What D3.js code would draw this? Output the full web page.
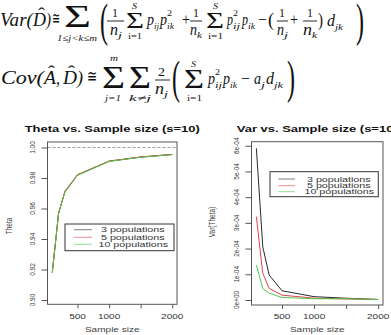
<!DOCTYPE html>
<html><head><meta charset="utf-8">
<script src="https://cdn.jsdelivr.net/npm/d3@7"></script>
<style>
html,body{margin:0;padding:0;background:#fff;}
svg{display:block;}
</style></head>
<body>
<svg id="c" width="391" height="335"></svg>
<script>
// ---------------- data ----------------
const sampleSize = [100, 200, 300, 500, 1000, 1500, 2000];
const theta3  = [0.9180, 0.9570, 0.9710, 0.9820, 0.9910, 0.9937, 0.9954];
const theta5  = [0.9183, 0.9567, 0.9713, 0.9822, 0.9911, 0.9938, 0.9955];
const theta10 = [0.9177, 0.9573, 0.9707, 0.9818, 0.9909, 0.9936, 0.9953];
const var3  = [5.90e-4, 2.07e-4, 0.97e-4, 0.36e-4, 0.13e-4, 0.07e-4, 0.02e-4];
const var5  = [3.24e-4, 1.04e-4, 0.45e-4, 0.19e-4, 0.07e-4, 0.04e-4, 0.02e-4];
const var10 = [1.36e-4, 0.45e-4, 0.26e-4, 0.10e-4, 0.05e-4, 0.05e-4, 0.02e-4];
const seriesNames = ["3 populations", "5 populations", "10 populations"];
const seriesColors = ["#2a2a2a", "#e5404c", "#4fc94a"];
const xTicks = [500, 1000, 1500, 2000];
const xTickLabels = ["500", "1000", "", "2000"];
const thetaTicks = [0.90, 0.92, 0.94, 0.96, 0.98, 1.00];
const thetaTickLabels = ["0.90", "0.92", "0.94", "0.96", "0.98", "1.00"];
const varTicks = [0, 1e-4, 2e-4, 3e-4, 4e-4, 5e-4, 6e-4];
const varTickLabels = ["0e+00", "1e-04", "2e-04", "3e-04", "4e-04", "5e-04", "6e-04"];
const thetaRef = 1.0;
const titles = ["Theta vs. Sample size (s=10)", "Var vs. Sample size (s=10)"];
const xTitle = "Sample size";
const yTitles = ["Theta", "Var(Theta)"];

const svg = d3.select("#c");
const SANS = "'Liberation Sans', Arial, Helvetica, sans-serif";
const SERIF = "'Liberation Serif', 'Times New Roman', 'DejaVu Serif', serif";

// horizontally stretched text helper (source image is stretched)
function htext(g, str, x, y, o) {
  o = o || {};
  const t = g.append("text")
    .attr("transform", `translate(${x},${y}) scale(${o.sx||1.5},1)` + (o.rot ? " rotate(-90)" : ""))
    .attr("text-anchor", o.anchor || "middle")
    .attr("font-family", o.fam || SANS)
    .attr("font-size", o.fs || 6.7)
    .attr("font-weight", o.bold ? "bold" : "normal")
    .attr("fill", o.fill || "#222")
    .text(str);
  return t;
}

// ---------------- formula ----------------
const fg = svg.append("g").attr("fill", "#111");
function fit(p) {
  const t = fg.append("text")
    .attr("font-family", SERIF)
    .attr("font-size", p.fs)
    .attr("font-style", p.it ? "italic" : "normal")
    .text(p.t);
  const w = t.node().getComputedTextLength() || 1;
  const sx = (p.x1 - p.x0) / w;
  t.attr("transform", `translate(${p.x0},${p.y}) scale(${sx},1)`);
}
function bar(x0, x1, y) {
  fg.append("line").attr("x1", x0).attr("x2", x1).attr("y1", y).attr("y2", y)
    .attr("stroke", "#111").attr("stroke-width", 0.9);
}
const L1 = [
  {t:"Var(", x0:0, x1:33, y:26, fs:18, it:1},
  {t:"D", x0:33, x1:46, y:26, fs:18, it:1},
  {t:"ˆ", x0:38, x1:45, y:19, fs:16},
  {t:")", x0:46, x1:51, y:26, fs:18, it:1},
  {t:"≅", x0:52, x1:60, y:24, fs:17},
  {t:"Σ", x0:64, x1:91, y:27, fs:32},
  {t:"1≤j<k≤m", x0:57, x1:97, y:41, fs:9, it:1},
  {t:"(", x0:100, x1:108, y:36, fs:46},
  {t:"1", x0:112, x1:118, y:17, fs:12},
  {t:"n", x0:110, x1:118, y:35, fs:16, it:1},
  {t:"j", x0:118, x1:122, y:38, fs:9, it:1},
  {t:"Σ", x0:126, x1:144, y:28, fs:24},
  {t:"S", x0:132, x1:137, y:9, fs:8, it:1},
  {t:"i=1", x0:128, x1:142, y:39, fs:8},
  {t:"p", x0:147, x1:154, y:25, fs:16, it:1},
  {t:"ij", x0:154, x1:159, y:29, fs:8, it:1},
  {t:"p", x0:160, x1:167, y:25, fs:16, it:1},
  {t:"ik", x0:167, x1:174, y:29, fs:8, it:1},
  {t:"2", x0:167, x1:172, y:16, fs:8},
  {t:"+", x0:182, x1:190, y:25, fs:16},
  {t:"1", x0:193, x1:199, y:17, fs:12},
  {t:"n", x0:190, x1:197, y:35, fs:16, it:1},
  {t:"k", x0:197, x1:202, y:38, fs:9, it:1},
  {t:"Σ", x0:206, x1:224, y:28, fs:24},
  {t:"S", x0:213, x1:218, y:9, fs:8, it:1},
  {t:"i=1", x0:208, x1:223, y:39, fs:8},
  {t:"p", x0:227, x1:233, y:25, fs:16, it:1},
  {t:"2", x0:233, x1:238, y:16, fs:8},
  {t:"ij", x0:233, x1:240, y:29, fs:8, it:1},
  {t:"p", x0:242, x1:248, y:25, fs:16, it:1},
  {t:"ik", x0:248, x1:255, y:29, fs:8, it:1},
  {t:"−", x0:258, x1:267, y:25, fs:16},
  {t:"(", x0:268, x1:274, y:26, fs:18},
  {t:"1", x0:279, x1:285, y:17, fs:12},
  {t:"n", x0:277, x1:284, y:35, fs:16, it:1},
  {t:"j", x0:284, x1:288, y:38, fs:9, it:1},
  {t:"+", x0:290, x1:298, y:25, fs:16},
  {t:"1", x0:307, x1:313, y:17, fs:12},
  {t:"n", x0:303, x1:312, y:35, fs:16, it:1},
  {t:"k", x0:312, x1:317, y:38, fs:9, it:1},
  {t:")", x0:318, x1:323, y:26, fs:18},
  {t:"d", x0:327, x1:335, y:26, fs:16, it:1},
  {t:"jk", x0:335, x1:343, y:30, fs:9, it:1},
  {t:")", x0:356, x1:364, y:36, fs:46}
];
const L2 = [
  {t:"Cov(", x0:1, x1:44, y:84, fs:18, it:1},
  {t:"A", x0:44, x1:56, y:84, fs:18, it:1},
  {t:"ˆ", x0:48, x1:55, y:77, fs:16},
  {t:",", x0:56, x1:60, y:84, fs:18, it:1},
  {t:"D", x0:63, x1:77, y:84, fs:18, it:1},
  {t:"ˆ", x0:68, x1:75, y:77, fs:16},
  {t:")", x0:77, x1:83, y:84, fs:18, it:1},
  {t:"≅", x0:87, x1:97, y:82, fs:17},
  {t:"Σ", x0:102, x1:125, y:88, fs:32},
  {t:"m", x0:110, x1:118, y:61, fs:9, it:1},
  {t:"j=1", x0:105, x1:121, y:101, fs:9, it:1},
  {t:"Σ", x0:129, x1:151, y:88, fs:32},
  {t:"k≠j", x0:129, x1:151, y:101, fs:9, it:1},
  {t:"2", x0:158, x1:165, y:76, fs:13},
  {t:"n", x0:155, x1:164, y:94, fs:16, it:1},
  {t:"j", x0:164, x1:168, y:97, fs:9, it:1},
  {t:"(", x0:172, x1:180, y:93, fs:46},
  {t:"Σ", x0:184, x1:204, y:88, fs:27},
  {t:"S", x0:191, x1:196, y:67, fs:8, it:1},
  {t:"i=1", x0:187, x1:202, y:101, fs:8},
  {t:"p", x0:208, x1:215, y:84, fs:16, it:1},
  {t:"2", x0:215, x1:220, y:75, fs:8},
  {t:"ij", x0:215, x1:222, y:88, fs:8, it:1},
  {t:"p", x0:223, x1:230, y:84, fs:16, it:1},
  {t:"ik", x0:230, x1:237, y:88, fs:8, it:1},
  {t:"−", x0:241, x1:250, y:84, fs:16},
  {t:"a", x0:254, x1:261, y:84, fs:16, it:1},
  {t:"j", x0:261, x1:265, y:88, fs:9, it:1},
  {t:"d", x0:266, x1:274, y:84, fs:16, it:1},
  {t:"jk", x0:274, x1:283, y:88, fs:9, it:1},
  {t:")", x0:287, x1:295, y:93, fs:46}
];
L1.forEach(fit); L2.forEach(fit);
bar(107, 124, 21); bar(190, 202, 21); bar(277, 288, 21); bar(303, 317, 21);
bar(155, 170, 80);

// ---------------- plots ----------------
function panel(cfg) {
  const g = svg.append("g");
  const x = d3.scaleLinear().domain([24, 2076]).range([cfg.left, cfg.right]);
  const y = d3.scaleLinear().domain(cfg.ydom).range([cfg.bottom, cfg.top]);

  if (cfg.ref != null) {
    g.append("line").attr("x1", cfg.left).attr("x2", cfg.right)
      .attr("y1", y(cfg.ref)).attr("y2", y(cfg.ref))
      .attr("stroke", "#9a9a9a").attr("stroke-dasharray", "3,2").attr("stroke-width", 1);
  }
  const line = d3.line().x((d, i) => x(sampleSize[i])).y(d => y(d));
  cfg.series.forEach((s, k) => {
    g.append("path").attr("d", line(s)).attr("fill", "none")
      .attr("stroke", seriesColors[k]).attr("stroke-width", 1);
  });
  g.append("rect").attr("x", cfg.left).attr("y", cfg.top)
    .attr("width", cfg.right - cfg.left).attr("height", cfg.bottom - cfg.top)
    .attr("fill", "none").attr("stroke", "#555").attr("stroke-width", 1);

  const xa = g.append("g").attr("transform", `translate(0,${cfg.bottom})`)
    .call(d3.axisBottom(x).tickValues(xTicks).tickSize(4).tickFormat(() => ""));
  xa.select(".domain").remove();
  xa.selectAll("line").attr("stroke", "#555");
  xTicks.forEach((v, i) => {
    if (xTickLabels[i]) htext(g, xTickLabels[i], x(v), 319, {fs: 6.7, sx: 1.5, fill: "#333"});
  });
  const ya = g.append("g").attr("transform", `translate(${cfg.left},0)`)
    .call(d3.axisLeft(y).tickValues(cfg.yticks).tickSize(6).tickFormat(() => ""));
  ya.select(".domain").remove();
  ya.selectAll("line").attr("stroke", "#555");
  cfg.yticks.forEach((v, i) => {
    htext(g, cfg.ylabels[i], cfg.ylabX, y(v), {fs: 6.5, sx: 1.25, rot: true, fill: "#333"});
  });
  htext(g, cfg.title, (cfg.left + cfg.right) / 2, 132, {fs: 8.2, sx: 1.58, bold: true, fill: "#111"});
  htext(g, xTitle, (cfg.left + cfg.right) / 2, 332, {fs: 6.7, sx: 1.5, fill: "#444"});
  htext(g, cfg.ytitle, cfg.ytitleX, cfg.ytitleY, {fs: 6.5, sx: 1.3, rot: true, fill: "#444"});

  const lg = cfg.legend;
  g.append("rect").attr("x", lg.x0).attr("y", lg.y0).attr("width", lg.x1 - lg.x0)
    .attr("height", lg.y1 - lg.y0).attr("fill", "#fff").attr("stroke", "#333").attr("stroke-width", 1);
  seriesNames.forEach((nm, k) => {
    const ry = lg.rows[k];
    g.append("line").attr("x1", lg.lx0).attr("x2", lg.lx1).attr("y1", ry).attr("y2", ry)
      .attr("stroke", seriesColors[k]).attr("stroke-width", 1).attr("stroke-opacity", 0.6);
    htext(g, nm, lg.tx + (nm.length < 14 ? 2.5 : 0), ry + 2.5, {fs: 7, sx: 1.53, anchor: "start", fill: "#333"});
  });
}

panel({
  left: 47.5, right: 177, top: 142, bottom: 304.3,
  ydom: [0.8972, 1.0036],
  yticks: thetaTicks, ylabels: thetaTickLabels, ylabX: 34.5,
  series: [theta3, theta5, theta10], ref: thetaRef,
  title: titles[0], ytitle: yTitles[0], ytitleX: 12, ytitleY: 226,
  legend: {x0: 65, x1: 174, y0: 224, y1: 250.7, lx0: 74, lx1: 92, tx: 98.5, rows: [229.7, 237.3, 244.3]}
});
panel({
  left: 251.5, right: 383, top: 141.7, bottom: 305,
  ydom: [-0.194e-4, 6.156e-4],
  yticks: varTicks, ylabels: varTickLabels, ylabX: 238.5,
  series: [var3, var5, var10], ref: null,
  title: titles[1], ytitle: yTitles[1], ytitleX: 215, ytitleY: 222,
  legend: {x0: 270, x1: 378.3, y0: 171.7, y1: 196.7, lx0: 278.3, lx1: 295, tx: 304.5, rows: [179, 185.7, 191.7]}
});
</script>
</body></html>
